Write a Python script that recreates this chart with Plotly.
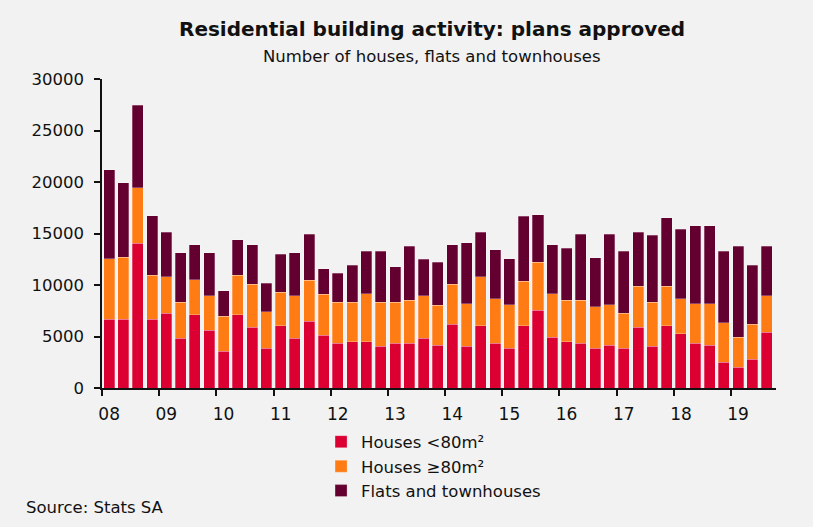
import plotly.graph_objects as go

years = ["08", "09", "10", "11", "12", "13", "14", "15", "16", "17", "18", "19"]
quarters = [f"20{y}Q{q}" for y in years for q in range(1, 5)][:47]

houses_small = [6670, 6670, 14040, 6670, 7250, 4820, 7090, 5600, 3560, 7090, 5890, 3850,
                6050, 4820, 6470, 5110, 4340, 4500, 4500, 4050, 4340, 4340, 4820, 4170,
                6180, 4050, 6050, 4340, 3850, 6050, 7570, 4950, 4500, 4340, 3850, 4170,
                3850, 5890, 4050, 6050, 5280, 4340, 4170, 2490, 2010, 2780, 5400]
houses_large = [5860, 6020, 5400, 4300, 3560, 3530, 3400, 3370, 3400, 3880, 4170, 3560,
                3240, 4140, 4010, 4010, 4010, 3850, 4630, 4300, 4010, 4170, 4140, 3880,
                3880, 4140, 4760, 4330, 4210, 4300, 4630, 4180, 4010, 4170, 4050, 3890,
                3430, 4010, 4300, 3850, 3390, 3850, 4020, 3850, 2940, 3400, 3560]
flats = [8640, 7220, 8030, 5730, 4300, 4790, 3430, 4170, 2490, 3400, 3850, 2780,
         3720, 4170, 4470, 2460, 2780, 3560, 4170, 4950, 3400, 5240, 3560, 4140,
         3850, 5890, 4300, 4760, 4470, 6340, 4630, 4790, 5080, 6440, 4760, 6890,
         6020, 5240, 6470, 6630, 6760, 7570, 7570, 6960, 8800, 5730, 4790]

series_names = ["Houses <80m²", "Houses ≥80m²", "Flats and townhouses"]
colors = ["#DC0032", "#FF7B13", "#64002F"]
y_ticks = [0, 5000, 10000, 15000, 20000, 25000, 30000]

xpos = list(range(len(quarters)))
FONT = "DejaVu Sans"

fig = go.Figure()
for name, vals, col in zip(series_names, [houses_small, houses_large, flats], colors):
    fig.add_trace(go.Bar(
        x=xpos, y=vals, name=name, width=0.77,
        marker=dict(color=col, line=dict(color="rgba(255,255,255,0.45)", width=0.6)),
    ))

year_ticks = [i for i, q in enumerate(quarters) if q.endswith("Q1")]
year_labels = [quarters[i][2:4] for i in year_ticks]

fig.update_layout(
    barmode="stack",
    width=813, height=527,
    paper_bgcolor="#F2F2F2", plot_bgcolor="#F2F2F2",
    margin=dict(l=102, r=37, t=79, b=139, autoexpand=False),
    font=dict(family=FONT, size=16, color="#111111"),
    showlegend=True,
    legend=dict(x=0.325, y=-0.118, xanchor="left", yanchor="top", orientation="v",
                traceorder="normal", font=dict(size=16.5), bgcolor="rgba(0,0,0,0)",
                itemwidth=30, tracegroupgap=0),
    xaxis=dict(
        range=[-0.5, 46.65], showgrid=False, zeroline=False,
        showline=True, linecolor="#111111", linewidth=1.5,
        tickmode="array", tickvals=year_ticks, ticktext=year_labels,
        ticks="outside", ticklen=10, tickcolor="rgba(0,0,0,0)",
        tickfont=dict(size=17),
        minor=dict(tickmode="array", tickvals=[i - 0.5 for i in year_ticks], ticks="outside",
                   ticklen=6, tickwidth=1.5, tickcolor="#111111", showgrid=False),
    ),
    yaxis=dict(
        range=[0, 30000], showgrid=False, zeroline=False,
        showline=True, linecolor="#111111", linewidth=1.5,
        tickmode="array", tickvals=y_ticks, ticktext=[str(v) for v in y_ticks],
        ticks="outside", ticklen=6, tickwidth=1.5, tickcolor="#111111",
        ticklabelstandoff=7,
        tickfont=dict(size=16.5),
    ),
    annotations=[
        dict(text="<b>Residential building activity: plans approved</b>", xref="paper", yref="paper",
             x=0.489, y=1.0, yshift=50, showarrow=False, xanchor="center", yanchor="middle",
             font=dict(size=20, family=FONT, color="#111111")),
        dict(text="Number of houses, flats and townhouses", xref="paper", yref="paper",
             x=0.489, y=1.0, yshift=23, showarrow=False, xanchor="center", yanchor="middle",
             font=dict(size=16.5, family=FONT, color="#111111")),
        dict(text="Source: Stats SA", xref="paper", yref="paper",
             x=-0.116, y=0, yshift=-119, showarrow=False, xanchor="left", yanchor="middle",
             font=dict(size=16.5, family=FONT, color="#111111")),
    ],
)

fig.write_html("out.html", config={"displayModeBar": False},
               post_script="document.body.style.margin='0';document.body.style.background='#F2F2F2';")
